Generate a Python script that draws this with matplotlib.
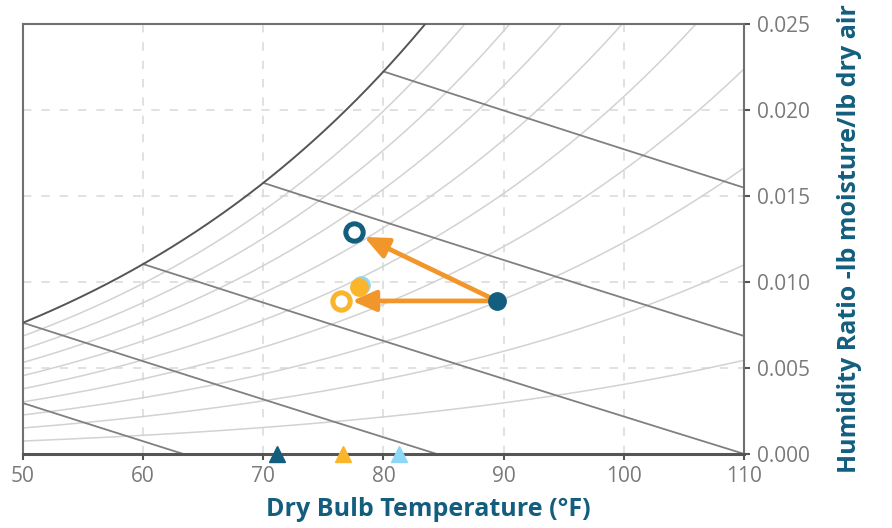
import numpy as np
import matplotlib
matplotlib.use("Agg")
import matplotlib.pyplot as plt

plt.rcParams['font.family'] = ['Open Sans', 'DejaVu Sans']

# chart range
T_MIN, T_MAX = 50, 110
W_MIN, W_MAX = 0.0, 0.025
P_ATM = 14.696  # psia

# relative humidity curves (fraction of saturation)
rh_levels = [0.1, 0.2, 0.3, 0.4, 0.5, 0.6, 0.7, 0.8, 0.9]
# enthalpy lines, labelled by the saturation temperature they start from (°F)
enthalpy_base_temps = [40, 50, 60, 70, 80]

# process states (dry bulb °F, humidity ratio)
outdoor_T, outdoor_W = 89.45, 0.0089
indirect_T, indirect_W = 77.55, 0.0129
direct_T, direct_W = 76.45, 0.0089
mixed_T, mixed_W = 77.95, 0.00973
supply_T, supply_W = 78.1, 0.00983

# wet bulb markers on the temperature axis
wb_temps = [71.1, 76.6, 81.3]

DARK_BLUE = '#135E7E'
ORANGE = '#FBB52B'
ARROW = '#F2962B'
LIGHT_BLUE = '#8DD7F7'
wb_colors = [DARK_BLUE, ORANGE, LIGHT_BLUE]


def p_sat(T_f):
    # saturation pressure over water (psia), Hyland-Wexler, T in °F
    T = np.asarray(T_f, dtype=float) + 459.67
    ln_p = (-1.0440397e4 / T - 1.1294650e1 - 2.7022355e-2 * T
            + 1.2890360e-5 * T ** 2 - 2.4780681e-9 * T ** 3
            + 6.5459673 * np.log(T))
    return np.exp(ln_p)


def hum_ratio(T_f, rh=1.0):
    pw = rh * p_sat(T_f)
    return 0.621945 * pw / (P_ATM - pw)


def enthalpy(T_f, W):
    return 0.240 * T_f + W * (1061 + 0.444 * T_f)


fig = plt.figure(figsize=(8.92, 5.28), dpi=100)
ax = fig.add_axes([23 / 892, 74 / 528, 721 / 892, 430 / 528])

T = np.linspace(T_MIN, T_MAX, 400)

# relative humidity curves
for rh in rh_levels:
    ax.plot(T, hum_ratio(T, rh), color='#d2d2d2', lw=1.1, zorder=1)

# saturation curve
ax.plot(T, hum_ratio(T), color='#555555', lw=1.4, zorder=3)

# constant enthalpy lines
for tb in enthalpy_base_temps:
    h = enthalpy(tb, hum_ratio(tb))
    t_line = np.linspace(tb, min(h / 0.240, T_MAX), 200)
    w_line = (h - 0.240 * t_line) / (1061 + 0.444 * t_line)
    ax.plot(t_line, w_line, color='#808080', lw=1.3, zorder=2)

# process arrows
arrow_style = dict(arrowstyle='-|>,head_length=0.8,head_width=0.35',
                   color=ARROW, lw=3.4, shrinkA=0, shrinkB=8,
                   mutation_scale=18)
ax.annotate('', xy=(indirect_T, indirect_W), xytext=(outdoor_T, outdoor_W),
            arrowprops=arrow_style, zorder=4)
ax.annotate('', xy=(direct_T, direct_W), xytext=(outdoor_T, outdoor_W),
            arrowprops=arrow_style, zorder=4)

# state points
ax.plot(supply_T, supply_W, 'o', ms=12.5, color=LIGHT_BLUE, zorder=5)
ax.plot(mixed_T, mixed_W, 'o', ms=12.5, color=ORANGE, zorder=5)
ax.plot(outdoor_T, outdoor_W, 'o', ms=12.5, color=DARK_BLUE, zorder=5)
ax.plot(indirect_T, indirect_W, 'o', ms=12.5, mfc='white', mec=DARK_BLUE,
        mew=3.6, zorder=5)
ax.plot(direct_T, direct_W, 'o', ms=12.5, mfc='white', mec=ORANGE,
        mew=3.6, zorder=5)

# wet bulb temperatures on the axis
for t, c in zip(wb_temps, wb_colors):
    ax.plot(t, 0.0, '^', ms=11, color=c, clip_on=False, zorder=6)

ax.set_xlim(T_MIN, T_MAX)
ax.set_ylim(W_MIN, W_MAX)
ax.set_xticks(np.arange(50, 111, 10))
ax.set_yticks(np.arange(0, 0.0251, 0.005))
ax.yaxis.set_major_formatter(plt.FormatStrFormatter('%.3f'))
ax.yaxis.tick_right()

ax.grid(True, ls=(0, (5, 6)), color='#dcdcdc', lw=1.2, zorder=0)
ax.set_axisbelow(True)

for side in ['left', 'top', 'right']:
    ax.spines[side].set_color('#707070')
    ax.spines[side].set_linewidth(1.5)
ax.spines['bottom'].set_color('#555555')
ax.spines['bottom'].set_linewidth(2.2)

ax.tick_params(direction='out', length=4, width=1.5, color='#555555',
               labelcolor='#7a7a7a', labelsize=15, pad=5)

ax.text(0.562, -0.128, 'Dry Bulb Temperature (°F)', transform=ax.transAxes,
        ha='center', va='center', fontsize=18, fontweight='bold',
        color=DARK_BLUE)
ax.text(1.146, 0.5, 'Humidity Ratio -lb moisture/lb dry air',
        transform=ax.transAxes, rotation=90, ha='center', va='center',
        fontsize=18, fontweight='bold', color=DARK_BLUE)

fig.savefig('out.png', dpi=100)
